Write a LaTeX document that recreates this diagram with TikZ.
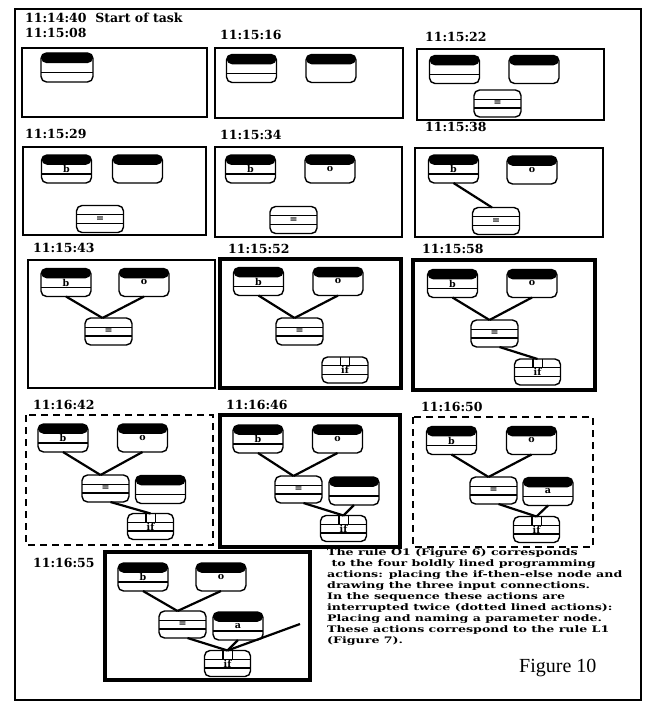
\documentclass[tikz,border=0pt]{standalone}
\usepackage{fontspec}
\setmainfont{DejaVu Serif}
\newfontfamily\figfont{Liberation Serif}
\newfontfamily\parafont[FakeStretch=1.4]{DejaVu Serif}
\usetikzlibrary{calc}
\newcommand\hfr[1]{\coordinate (hA) at ($(pnw)!#1!(pse)$);\draw[line width=1.2pt] (hA -| pnw) -- (hA -| pse);}
\newcommand\setpp{\coordinate (pnw) at (path picture bounding box.north west);\coordinate (pse) at (path picture bounding box.south east);}
\newcommand\bandpp{\coordinate (hB) at ($(pnw)!0.35!(pse)$);\fill (pnw) rectangle (hB -| pse);}
\tikzset{
  nbase/.style={draw, line width=1.4pt, rounded corners=5.5pt, minimum width=50pt, minimum height=28pt, inner sep=0pt, outer sep=0pt, font=\fontsize{9.5}{9.5}\selectfont\bfseries},
  parnode/.style={nbase, path picture={\setpp\bandpp\hfr{0.68}}},
  onode/.style={nbase, path picture={\setpp\bandpp}},
  eqnode/.style={nbase, minimum width=47pt, minimum height=27pt, path picture={\setpp\hfr{0.34}\hfr{0.67}}},
  ifnode/.style={nbase, minimum width=46pt, minimum height=26pt, path picture={\setpp\hfr{0.34}\hfr{0.67}
      \coordinate (vA) at ($(pnw)!0.4!(pse)$);\coordinate (vB) at ($(pnw)!0.6!(pse)$);\coordinate (hC) at ($(pnw)!0.34!(pse)$);
      \draw[line width=1.2pt] (vA |- pnw) -- (vA |- hC) (vB |- pnw) -- (vB |- hC);}},
  thinframe/.style={draw, line width=1.6pt},
  medframe/.style={draw, line width=2.5pt},
  boldframe/.style={draw, line width=3.6pt},
  dashframe/.style={draw, line width=2.6pt, dash pattern=on 7pt off 5pt},
  outer/.style={draw, line width=1.8pt},
  edge/.style={line width=2.2pt},
  tlabel/.style={anchor=west, inner sep=0pt, font=\fontsize{12.5}{13}\selectfont\bfseries}
}
\begin{document}
\begin{tikzpicture}[x=1pt,y=-1pt]
\fill[white] (0,0) rectangle (646,709);
\useasboundingbox (0,0) rectangle (646,709);
% outer frame
\draw[outer] (15,9) rectangle (641,700);
% labels
\node[tlabel] (l0) at (25,18) {11:14:40\ \ Start of task};
\node[tlabel] (l1) at (25,33) {11:15:08};
\node[tlabel] (l2) at (220,35) {11:15:16};
\node[tlabel] (l3) at (425,37) {11:15:22};
\node[tlabel] (l4) at (25,134) {11:15:29};
\node[tlabel] (l5) at (220,135) {11:15:34};
\node[tlabel] (l6) at (425,127) {11:15:38};
\node[tlabel] (l7) at (33,248) {11:15:43};
\node[tlabel] (l8) at (228,249) {11:15:52};
\node[tlabel] (l9) at (422,249) {11:15:58};
\node[tlabel] (l10) at (33,405) {11:16:42};
\node[tlabel] (l11) at (226,405) {11:16:46};
\node[tlabel] (l12) at (421,407) {11:16:50};
\node[tlabel] (l13) at (33,563) {11:16:55};
% panel frames
\draw[thinframe] (22,48) rectangle (207,117);
\draw[thinframe] (215,48) rectangle (403,118);
\draw[thinframe] (417,49) rectangle (604,120);
\draw[thinframe] (23,147) rectangle (206,235);
\draw[thinframe] (215,147) rectangle (402,237);
\draw[thinframe] (415,148) rectangle (603,237);
\draw[medframe] (28,260) rectangle (215,388);
\draw[boldframe] (220,259) rectangle (401,388);
\draw[boldframe] (413,260) rectangle (595,390);
\draw[dashframe] (26,415) rectangle (213,545);
\draw[boldframe] (220,415) rectangle (400,547);
\draw[dashframe] (413,417) rectangle (593,547);
\draw[boldframe] (105,552) rectangle (310,680);
% panel 1
\node[parnode, minimum width=52pt, minimum height=29pt] (p1a) at (67,67.5) {};
% panel 2
\node[parnode] (p2a) at (251.5,68.5) {};
\node[onode] (p2b) at (331,68.5) {};
% panel 3
\node[parnode] (p3a) at (454.5,69.5) {};
\node[onode] (p3b) at (534,69.5) {};
\node[eqnode] (p3e) at (497.5,103.5) {=};
% panel 4
\node[parnode] (p4a) at (66.5,169) {b};
\node[onode] (p4b) at (137.5,169) {};
\node[eqnode] (p4e) at (100,219) {=};
% panel 5
\node[parnode] (p5a) at (250.5,169) {b};
\node[onode] (p5b) at (330,169) {o};
\node[eqnode] (p5e) at (293.5,220) {=};
% panel 6
\node[parnode] (p6a) at (453.5,169) {b};
\node[onode] (p6b) at (532,170) {o};
\node[eqnode] (p6e) at (496,221) {=};
\draw[edge] (p6a.south) -- ([xshift=-4pt]p6e.north);
% panel 7
\node[parnode] (p7a) at (66,282.5) {b};
\node[onode] (p7b) at (144,282.5) {o};
\node[eqnode] (p7e) at (108.5,331.5) {=};
\draw[edge] (p7a.south) -- ([xshift=-6pt]p7e.north);
\draw[edge] (p7b.south) -- ([xshift=-6pt]p7e.north);
% panel 8
\node[parnode] (p8a) at (258.5,281.5) {b};
\node[onode] (p8b) at (338,281.5) {o};
\node[eqnode] (p8e) at (299.5,331.5) {=};
\node[ifnode] (p8i) at (345,370) {if};
\draw[edge] (p8a.south) -- ([xshift=-5pt]p8e.north);
\draw[edge] (p8b.south) -- ([xshift=-5pt]p8e.north);
% panel 9
\node[parnode] (p9a) at (452.5,283.5) {b};
\node[onode] (p9b) at (532,283.5) {o};
\node[eqnode] (p9e) at (494.5,333.5) {=};
\node[ifnode] (p9i) at (537.5,372) {if};
\draw[edge] (p9a.south) -- ([xshift=-5pt]p9e.north);
\draw[edge] (p9b.south) -- ([xshift=-5pt]p9e.north);
\draw[edge] ([xshift=5pt]p9e.south) -- (p9i.north);
% panel 10
\node[parnode] (p10a) at (63,438) {b};
\node[onode] (p10b) at (142.5,438) {o};
\node[eqnode] (p10e) at (105.5,488.5) {=};
\node[parnode] (p10p) at (160.5,489.5) {};
\node[ifnode] (p10i) at (150.5,526.5) {if};
\draw[edge] (p10a.south) -- ([xshift=-5pt]p10e.north);
\draw[edge] (p10b.south) -- ([xshift=-5pt]p10e.north);
\draw[edge] ([xshift=5pt]p10e.south) -- (p10i.north);
% panel 11
\node[parnode] (p11a) at (258,439) {b};
\node[onode] (p11b) at (337.5,439) {o};
\node[eqnode] (p11e) at (298.5,489.5) {=};
\node[parnode] (p11p) at (354,491) {};
\node[ifnode] (p11i) at (343.5,528.5) {if};
\draw[edge] (p11a.south) -- ([xshift=-5pt]p11e.north);
\draw[edge] (p11b.south) -- ([xshift=-5pt]p11e.north);
\draw[edge] ([xshift=5pt]p11e.south) -- (p11i.north);
\draw[edge] (p11p.south) -- (p11i.north);
% panel 12
\node[parnode] (p12a) at (451.5,440.5) {b};
\node[onode] (p12b) at (531.5,440.5) {o};
\node[eqnode] (p12e) at (493.5,490.5) {=};
\node[parnode] (p12p) at (548,491.5) {a};
\node[ifnode] (p12i) at (536.5,529.5) {if};
\draw[edge] (p12a.south) -- ([xshift=-5pt]p12e.north);
\draw[edge] (p12b.south) -- ([xshift=-5pt]p12e.north);
\draw[edge] ([xshift=5pt]p12e.south) -- (p12i.north);
\draw[edge] (p12p.south) -- (p12i.north);
% panel 13
\node[parnode] (p13a) at (143,577) {b};
\node[onode] (p13b) at (221,577) {o};
\node[eqnode] (p13e) at (182.5,624.5) {=};
\node[parnode] (p13p) at (238,626) {a};
\node[ifnode] (p13i) at (227.5,663.5) {if};
\coordinate (p13c) at (300,624);
\draw[edge] (p13a.south) -- ([xshift=-5pt]p13e.north);
\draw[edge] (p13b.south) -- ([xshift=-5pt]p13e.north);
\draw[edge] ([xshift=5pt]p13e.south) -- (p13i.north);
\draw[edge] (p13p.south) -- (p13i.north);
\draw[edge] (p13i.north) -- (p13c);
% caption text
\node[anchor=north west, inner sep=0pt, align=left, font=\parafont\bfseries\fontsize{9}{11}\selectfont] (txt) at (327,548) {%
The rule O1 (Figure 6) corresponds\\
\ to the four boldly lined programming\\
actions: placing the if-then-else node and\\
drawing the three input connections.\\
In the sequence these actions are\\
interrupted twice (dotted lined actions):\\
Placing and naming a parameter node.\\
These actions correspond to the rule L1\\
(Figure 7).};
\node[anchor=west, inner sep=0pt, font=\figfont\fontsize{20}{20}\selectfont] (fig) at (519,668) {Figure 10};
\end{tikzpicture}
\end{document}
